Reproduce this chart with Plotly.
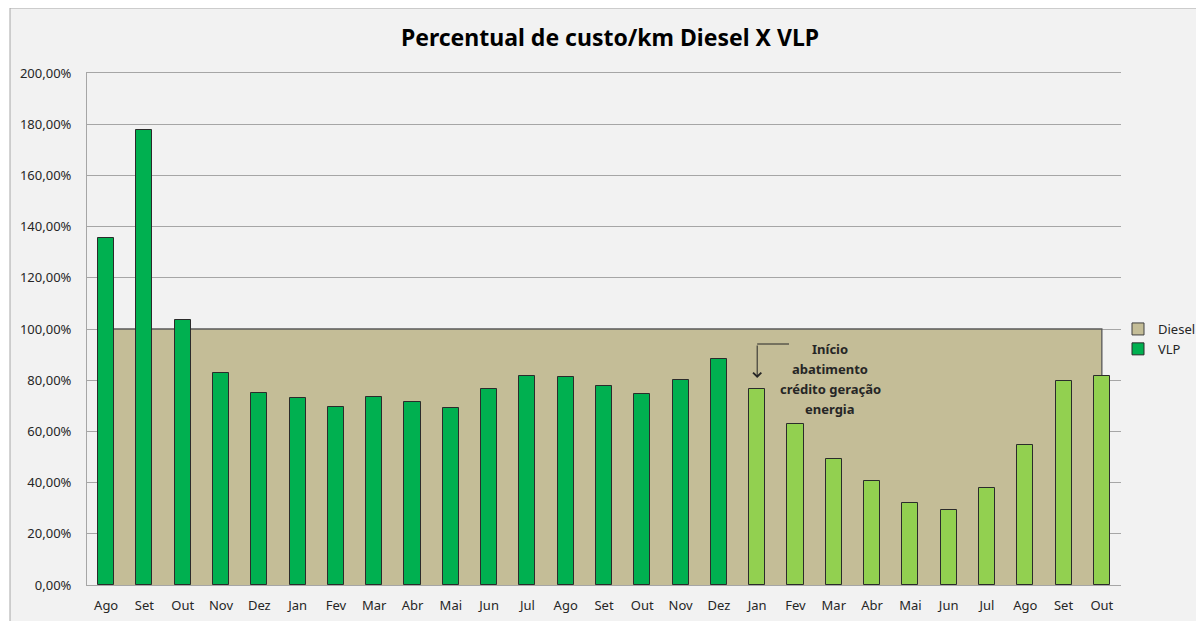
import plotly.graph_objects as go

months = ["Ago", "Set", "Out", "Nov", "Dez", "Jan", "Fev", "Mar", "Abr", "Mai", "Jun",
          "Jul", "Ago", "Set", "Out", "Nov", "Dez",
          "Jan", "Fev", "Mar", "Abr", "Mai", "Jun", "Jul", "Ago", "Set", "Out"]
vlp = [135.5, 177.7, 103.6, 82.7, 75.1, 72.9, 69.5, 73.6, 71.6, 69.1, 76.7,
       81.5, 81.1, 77.7, 74.6, 80.1, 88.4,
       76.7, 62.9, 49.1, 40.7, 32.2, 29.4, 38.0, 54.6, 79.8, 81.5]
diesel = [100.0] * len(months)
credit_start = 17  # index of first month with energy credit (Jan)
note_lines = ["Início", "abatimento", "crédito geração", "energia"]

dark_green = "#00B050"
light_green = "#92D050"
diesel_color = "#C4BD97"
bar_colors = [dark_green if i < credit_start else light_green for i in range(len(months))]

idx = list(range(len(months)))

fig = go.Figure()

# Diesel area (closed polygon from first to last category center)
fig.add_trace(go.Scatter(
    x=[idx[0]] + idx + [idx[-1]],
    y=[0] + diesel + [0],
    fill="toself", fillcolor=diesel_color,
    line=dict(color="#595959", width=1.3),
    mode="lines", name="Diesel", hoverinfo="skip", showlegend=False,
    xaxis="x", yaxis="y",
))
# legend entry for Diesel (square swatch)
fig.add_trace(go.Bar(
    x=[None], y=[None], name="Diesel",
    marker=dict(color=diesel_color, line=dict(color="#404040", width=1)),
    xaxis="x2", yaxis="y",
))

fig.add_trace(go.Bar(
    x=idx, y=vlp, name="VLP", width=0.42,
    marker=dict(color=bar_colors, line=dict(color="#2b2b2b", width=1)),
    xaxis="x2", yaxis="y",
))

# page has an 8px body margin: figure is drawn from (8, 8)
OFF = 8
W, H = 1204 - OFF, 621 - OFF
ml, mr, mt, mb = 87 - OFF, 1204 - 1121, 73 - OFF, 621 - 585
pw, ph = W - ml - mr, H - mt - mb

def px_x(p):
    return (p - OFF - ml) / pw

def px_y(p):
    return (H - mb - (p - OFF)) / ph

def y_val(p):
    return px_y(p) * 200

def x_val(p):
    return px_x(p) * len(months) - 0.5

annotations = [
    dict(x=credit_start, y=y_val(378), ax=credit_start, ay=y_val(344),
         xref="x", yref="y", axref="x", ayref="y",
         showarrow=True, arrowhead=4, arrowsize=1.6, arrowwidth=1,
         arrowcolor="#262626", text=""),
]
for k, line in enumerate(note_lines):
    annotations.append(dict(
        x=x_val(830), y=y_val(349 + 20 * k), xref="x", yref="y",
        text="<b>" + line + "</b>", showarrow=False, align="center",
        xanchor="center", yanchor="middle",
        font=dict(size=13, color="#262626")))

fig.update_layout(
    width=W, height=H,
    margin=dict(l=ml, r=mr, t=mt, b=mb, autoexpand=False),
    paper_bgcolor="white", plot_bgcolor="white",
    separators=",.",
    font=dict(family="Noto Sans", size=13, color="#262626"),
    title=dict(text="<b>Percentual de custo/km Diesel X VLP</b>",
               x=px_x(610), xref="paper", xanchor="center",
               y=1 - (38 - OFF) / H, yanchor="middle",
               font=dict(family="Noto Sans", size=23, color="#000000")),
    showlegend=True,
    legend=dict(x=px_x(1118), y=px_y(314), xanchor="left", yanchor="top",
                bgcolor="rgba(0,0,0,0)", font=dict(size=13, color="#262626"),
                tracegroupgap=6, itemwidth=30),
    bargap=0,
    xaxis=dict(range=[-0.5, len(months) - 0.5], tickmode="array", tickvals=idx,
               ticktext=months, showgrid=False, showline=True, mirror=True,
               linecolor="#A6A6A6", linewidth=1, ticks="", ticklabelstandoff=8,
               zeroline=False),
    xaxis2=dict(range=[-0.5, len(months) - 0.5], overlaying="x", visible=False),
    yaxis=dict(range=[0, 200], dtick=20, tickformat=".2f", ticksuffix="%",
               showgrid=True, gridcolor="#A6A6A6", gridwidth=1,
               showline=True, linecolor="#A6A6A6", linewidth=1,
               ticks="", ticklabelstandoff=12, zeroline=False),
    shapes=[
        dict(type="rect", xref="paper", yref="paper",
             x0=px_x(10), x1=px_x(1206), y0=px_y(630), y1=px_y(8),
             fillcolor="#F2F2F2", line=dict(color="#A6A6A6", width=1), layer="below"),
        dict(type="line", xref="x", yref="y",
             x0=credit_start, x1=x_val(789), y0=y_val(344), y1=y_val(344),
             line=dict(color="#262626", width=1)),
    ],
    annotations=annotations,
)

fig.write_html("out.html")
